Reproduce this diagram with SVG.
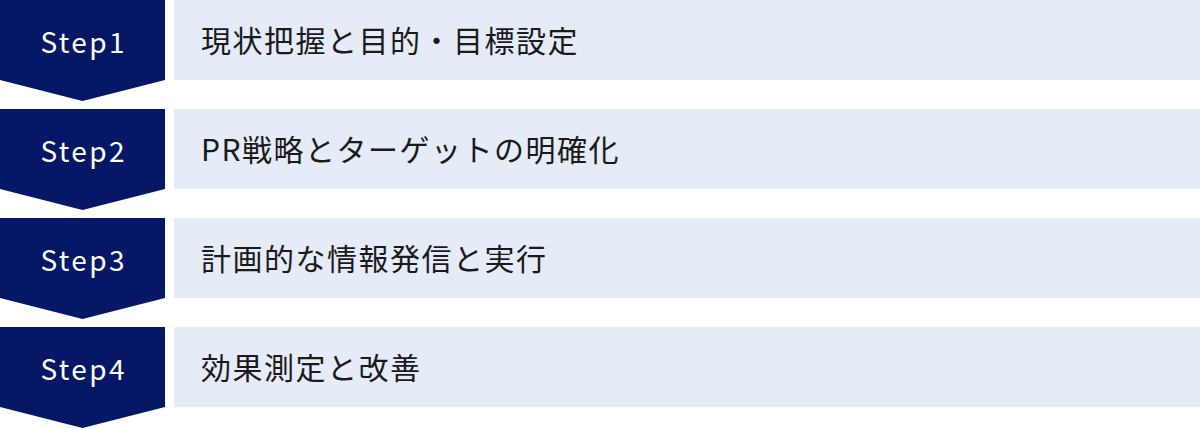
<svg xmlns="http://www.w3.org/2000/svg" width="1200" height="429" viewBox="0 0 1200 429">
<style>
.badge{fill:#061865}
.box{fill:#e6ebf8}
.step{font-family:"Noto Sans CJK JP","Noto Sans",sans-serif;font-size:28px;fill:#ffffff;letter-spacing:2.4px;text-anchor:middle}
.label{font-family:"Noto Sans CJK JP","Noto Sans",sans-serif;font-size:30px;fill:#1a1a1a;letter-spacing:1.5px}
</style>
<rect width="1200" height="429" fill="#ffffff"/>
<g id="step1">
<polygon class="badge" points="0,0 165,0 165,80 82.5,101 0,80"/>
<rect class="box" x="174" y="0" width="1026" height="80"/>
<text class="step" x="83.7" y="53">Step1</text>
<text class="label" x="201" y="52">現状把握と目的・目標設定</text>
</g>
<g id="step2">
<polygon class="badge" points="0,109 165,109 165,189 82.5,210 0,189"/>
<rect class="box" x="174" y="109" width="1026" height="80"/>
<text class="step" x="83.7" y="162">Step2</text>
<text class="label" x="201" y="161">PR戦略とターゲットの明確化</text>
</g>
<g id="step3">
<polygon class="badge" points="0,218 165,218 165,298 82.5,319 0,298"/>
<rect class="box" x="174" y="218" width="1026" height="80"/>
<text class="step" x="83.7" y="271">Step3</text>
<text class="label" x="201" y="270">計画的な情報発信と実行</text>
</g>
<g id="step4">
<polygon class="badge" points="0,327 165,327 165,407 82.5,428 0,407"/>
<rect class="box" x="174" y="327" width="1026" height="80"/>
<text class="step" x="83.7" y="380">Step4</text>
<text class="label" x="201" y="379">効果測定と改善</text>
</g>
<g id="connectors"/>
</svg>
